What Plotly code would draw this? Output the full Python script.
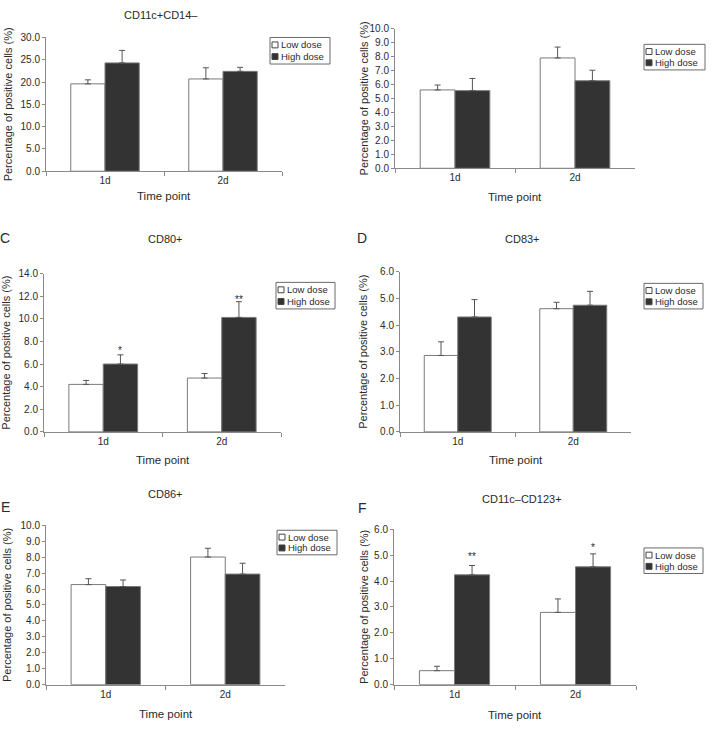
import plotly.graph_objects as go

W, H = 716, 730

categories = ["1d", "2d"]
series_names = ["Low dose", "High dose"]

panel_titles = ["CD11c+CD14\u2013", "", "CD80+", "CD83+", "CD86+", "CD11c\u2013CD123+"]
panel_letters = ["", "", "C", "D", "E", "F"]
y_max = [30, 10, 14, 6, 10, 6]
y_step = [5, 1, 2, 1, 1, 1]

# mean values [1d, 2d]
low_mean = [
    [19.6, 20.7],
    [5.61, 7.90],
    [4.20, 4.76],
    [2.86, 4.61],
    [6.28, 8.01],
    [0.54, 2.79],
]
high_mean = [
    [24.3, 22.4],
    [5.56, 6.27],
    [6.00, 10.12],
    [4.30, 4.74],
    [6.16, 6.94],
    [4.24, 4.55],
]
# upper error (SD / SEM)
low_err = [
    [0.9, 2.5],
    [0.35, 0.78],
    [0.35, 0.40],
    [0.51, 0.24],
    [0.37, 0.55],
    [0.17, 0.52],
]
high_err = [
    [2.8, 0.9],
    [0.87, 0.75],
    [0.81, 1.39],
    [0.65, 0.52],
    [0.41, 0.68],
    [0.36, 0.50],
]
# significance marks on the high-dose bars
sig_marks = [
    ["", ""],
    ["", ""],
    ["*", "**"],
    ["", ""],
    ["", ""],
    ["**", "*"],
]
sig_y = [
    [0, 0],
    [0, 0],
    [7.36, 11.9],
    [0, 0],
    [0, 0],
    [5.01, 5.39],
]

# ---- layout geometry (pixels) ----
plot_box = [  # x0, x1, y_top, y_bottom
    (46, 282, 32, 168),
    (395, 635, 23, 165),
    (44, 281, 272, 433),
    (400, 631, 270, 433),
    (46, 285, 528, 690),
    (394, 636, 532, 690),
]
legend_box = [  # x0, x1, y0, y1
    (270, 330, 32, 59),
    (644, 705, 39, 65),
    (276, 335, 281, 308),
    (644, 703, 282, 308),
    (277, 337, 533, 558),
    (644, 703, 551, 577),
]
title_pos = [(161, 9), None, (165, 237), (522, 237), (165, 496), (522, 501)]
letter_pos = [None, None, (5, 236), (362, 236), (5, 509), (363, 510)]
ytitle_x = [8, 364, 6, 363, 7, 364]
xtitle_y = [193, 194, 462, 462, 720, 721]

FONT = "Liberation Sans, Arial, sans-serif"
TXT = "#2a2a2a"
AX = "#8a8a8a"
DARK = "#333333"
BAR_LINE = "#7a7a7a"
ERR = "#555555"
BARGAP = 0.42

def px(x):
    return x / W

def py(y):
    return 1 - y / H

fig = go.Figure()
annotations = []
shapes = []

for i in range(6):
    x0, x1, yt, yb = plot_box[i]
    xa = "x" if i == 0 else f"x{i+1}"
    ya = "y" if i == 0 else f"y{i+1}"
    xkey = "xaxis" if i == 0 else f"xaxis{i+1}"
    ykey = "yaxis" if i == 0 else f"yaxis{i+1}"

    fig.add_trace(go.Bar(
        x=categories, y=low_mean[i], name=series_names[0],
        marker=dict(color="white", line=dict(color=BAR_LINE, width=1)),
        error_y=dict(type="data", array=low_err[i], arrayminus=[0, 0], symmetric=False,
                     color=ERR, thickness=1, width=3),
        xaxis=xa, yaxis=ya, showlegend=False,
    ))
    fig.add_trace(go.Bar(
        x=categories, y=high_mean[i], name=series_names[1],
        marker=dict(color=DARK, line=dict(color=BAR_LINE, width=1)),
        error_y=dict(type="data", array=high_err[i], arrayminus=[0, 0], symmetric=False,
                     color=ERR, thickness=1, width=3),
        xaxis=xa, yaxis=ya, showlegend=False,
    ))

    fig.layout[xkey] = dict(
        domain=[px(x0), px(x1)], anchor=ya, type="category",
        showline=True, linecolor=AX, linewidth=1,
        ticks="outside", tickson="boundaries", ticklen=4, tickcolor=AX,
        tickfont=dict(family=FONT, size=10, color=TXT),
        showgrid=False, zeroline=False, fixedrange=True,
    )
    fig.layout[ykey] = dict(
        domain=[py(yb), py(yt)], anchor=xa,
        range=[0, y_max[i]], dtick=y_step[i], tick0=0, tickformat=".1f",
        showline=True, linecolor=AX, linewidth=1,
        ticks="outside", ticklen=3, tickcolor=AX,
        tickfont=dict(family=FONT, size=10, color=TXT),
        showgrid=False, zeroline=False, fixedrange=True,
    )

    # titles
    if title_pos[i] and panel_titles[i]:
        tx, ty = title_pos[i]
        annotations.append(dict(x=px(tx), y=py(ty), xref="paper", yref="paper",
                                text=panel_titles[i], showarrow=False,
                                xanchor="center", yanchor="middle",
                                font=dict(family=FONT, size=11, color=TXT)))
    if letter_pos[i] and panel_letters[i]:
        lx, ly = letter_pos[i]
        annotations.append(dict(x=px(lx), y=py(ly), xref="paper", yref="paper",
                                text=panel_letters[i], showarrow=False,
                                xanchor="center", yanchor="middle",
                                font=dict(family=FONT, size=14, color=TXT)))
    # y axis title
    annotations.append(dict(x=px(ytitle_x[i]), y=py((yt + yb) / 2), xref="paper", yref="paper",
                            text="Percentage of positive cells (%)", textangle=-90,
                            showarrow=False, xanchor="center", yanchor="middle",
                            font=dict(family=FONT, size=11, color=TXT)))
    # x axis title
    annotations.append(dict(x=px((x0 + x1) / 2), y=py(xtitle_y[i]), xref="paper", yref="paper",
                            text="Time point", showarrow=False,
                            xanchor="center", yanchor="middle",
                            font=dict(family=FONT, size=11.5, color=TXT)))

    # significance marks above high-dose bars
    off = (1 - BARGAP) / 4
    for j in range(2):
        if sig_marks[i][j]:
            annotations.append(dict(x=j + off, y=sig_y[i][j], xref=xa, yref=ya,
                                    text=sig_marks[i][j], showarrow=False,
                                    xanchor="center", yanchor="middle", yshift=-2,
                                    font=dict(family=FONT, size=10, color=TXT)))

    # legend (box + swatches + labels)
    lx0, lx1, ly0, ly1 = legend_box[i]
    shapes.append(dict(type="rect", xref="paper", yref="paper",
                       x0=px(lx0), x1=px(lx1), y0=py(ly1), y1=py(ly0),
                       line=dict(color="#6a6a6a", width=1), fillcolor="white"))
    rows = [ly0 + (ly1 - ly0) * 0.28, ly0 + (ly1 - ly0) * 0.72]
    fills = ["white", DARK]
    for r in range(2):
        cy = rows[r]
        shapes.append(dict(type="rect", xref="paper", yref="paper",
                           x0=px(lx0 + 2), x1=px(lx0 + 8), y0=py(cy + 3), y1=py(cy - 3),
                           line=dict(color="#444444", width=1), fillcolor=fills[r]))
        annotations.append(dict(x=px(lx0 + 9), y=py(cy), xref="paper", yref="paper",
                                text=series_names[r], showarrow=False,
                                xanchor="left", yanchor="middle",
                                font=dict(family=FONT, size=9.5, color=TXT)))

fig.update_layout(
    width=W, height=H,
    margin=dict(l=0, r=0, t=0, b=0),
    paper_bgcolor="white", plot_bgcolor="white",
    barmode="group", bargap=BARGAP, bargroupgap=0,
    showlegend=False,
    annotations=annotations, shapes=shapes,
    font=dict(family=FONT, color=TXT),
)

fig.write_html("out.html", config={"displayModeBar": False},
               post_script="document.body.style.margin='0';")
